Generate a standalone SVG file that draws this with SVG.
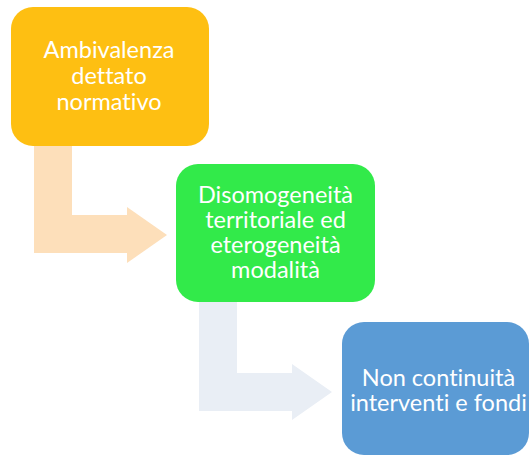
<svg xmlns="http://www.w3.org/2000/svg" width="530" height="457" viewBox="0 0 530 457">
<style>
.t{font-family:Lato,"Open Sans","Liberation Sans",sans-serif;font-size:23.5px;fill:#ffffff;text-anchor:middle;font-variant-ligatures:none}
</style>
<rect width="530" height="457" fill="#ffffff"/>
<g id="connectors">
<path id="arrow1" d="M34,146 L72,146 L72,215 L127,215 L127,207 L167,235 L127,263 L127,253 L34,253 Z" fill="#FDDFBA"/>
<path id="arrow2" d="M199,302 L237,302 L237,373 L292,373 L292,364 L332,392 L292,420 L292,411 L199,411 Z" fill="#E9EEF5"/>
</g>
<g id="node1">
<rect x="11" y="7" width="198" height="139" rx="22" fill="#FEBF12"/>
<text class="t" x="109" y="58">Ambivalenza</text>
<text class="t" x="109" y="84">dettato</text>
<text class="t" x="109" y="110">normativo</text>
</g>
<g id="node2">
<rect x="176" y="164" width="199" height="138" rx="22" fill="#32EA4A"/>
<text class="t" x="275.5" y="203">Disomogeneità</text>
<text class="t" x="275.5" y="228">territoriale ed</text>
<text class="t" x="275.5" y="253">eterogeneità</text>
<text class="t" x="275.5" y="278">modalità</text>
</g>
<g id="node3">
<rect x="342" y="322" width="187" height="133" rx="22" fill="#5B9BD5"/>
<text class="t" x="438.5" y="386">Non continuità</text>
<text class="t" x="438.5" y="411">interventi e fondi</text>
</g>
</svg>
